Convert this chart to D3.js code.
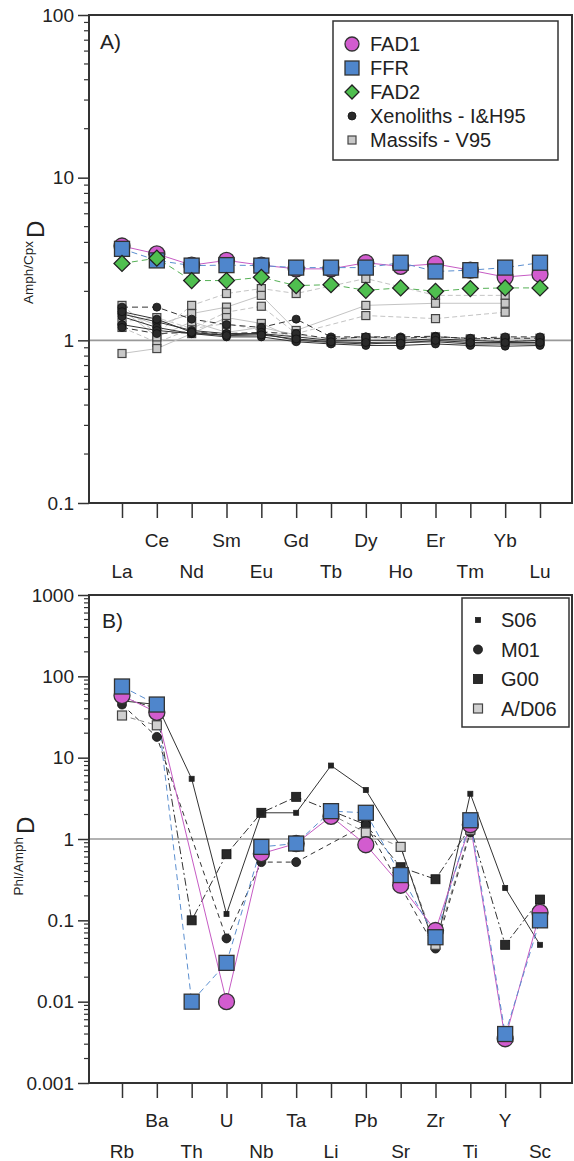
<!DOCTYPE html>
<meta charset="utf-8">
<style>
    body { margin: 0; background: #fff; }
    text { font-family: "Liberation Sans", Arial, sans-serif; fill: #222; }
</style>
<svg width="574" height="1161"></svg>
<script src="https://cdn.jsdelivr.net/npm/d3@7"></script>
<script>
    // panel A - Amph/Cpx partition coefficients, REE
    var ree = ["La", "Ce", "Nd", "Sm", "Eu", "Gd", "Tb", "Dy", "Ho", "Er", "Tm", "Yb", "Lu"];
    var fad1A = [3.8, 3.4, 2.9, 3.1, 2.9, 2.75, 2.75, 3.0, 2.85, 2.95, 2.7, 2.45, 2.55];
    var ffrA = [3.65, 3.1, 2.88, 2.9, 2.88, 2.8, 2.8, 2.8, 3.0, 2.65, 2.7, 2.8, 3.0];
    var fad2A = [2.97, 3.2, 2.33, 2.33, 2.44, 2.17, 2.2, 2.03, 2.1, 2.0, 2.08, 2.1, 2.1];
    var xenolithsA = [
        [1.6, 1.6, 1.35, 1.25, 1.2, 1.35, 1.05, 1.05, 1.05, 1.06, 1.02, 1.03, 1.03],
        [1.45, 1.3, 1.15, 1.1, 1.1, 1.0, 0.97, 0.95, 0.97, 0.98, 0.95, 0.95, 0.95],
        [1.4, 1.2, 1.1, 1.05, 1.05, 0.98, 0.95, 0.93, 0.93, 0.95, 0.93, 0.92, 0.93],
        [1.25, 1.15, 1.1, 1.08, 1.1, 1.05, 1.0, 1.0, 1.0, 1.02, 1.0, 0.98, 1.0],
        [1.2, 1.1, 1.12, 1.1, 1.12, 1.1, 1.02, 1.05, 1.03, 1.05, 1.03, 1.05, 1.05],
        [1.5, 1.35, 1.12, 1.07, 1.08, 1.02, 0.98, 0.97, 0.96, 1.0, 0.97, 0.97, 0.97]
    ];
    var massifsA = [
        [1.64, 1.1, 1.64, 1.94, 2.08, 1.94, null, 2.4, null, 1.89, null, 1.89, null],
        [1.49, 1.24, 1.46, 1.6, 1.89, 1.15, null, 1.64, null, 1.69, null, 1.69, null],
        [1.2, 0.97, 1.18, 1.49, 1.62, 1.1, null, 1.42, null, 1.36, null, 1.49, null],
        [0.83, 0.89, 1.1, 1.38, 1.27, 1.02, 0.98, 1.0, 0.98, 1.0, 0.97, 0.98, 0.98],
        [1.3, 1.38, 1.18, 1.27, 1.15, 1.05, 1.0, 1.02, 1.0, 1.02, 1.0, 1.0, 1.0],
        [1.55, 1.05, 1.3, 1.12, 1.2, 1.08, 1.02, 1.04, 1.02, 1.05, 1.02, 1.03, 1.03]
    ];

    // panel B - Phl/Amph partition coefficients
    var traceB = ["Rb", "Ba", "Th", "U", "Nb", "Ta", "Li", "Pb", "Sr", "Zr", "Ti", "Y", "Sc"];
    var fad1B = [58, 36, null, 0.01, 0.66, 0.88, 1.9, 0.85, 0.27, 0.075, 1.5, 0.0035, 0.125];
    var ffrB = [75, 45, 0.01, 0.03, 0.8, 0.88, 2.2, 2.1, 0.36, 0.062, 1.7, 0.004, 0.1];
    var s06B = [50, 45, 5.5, 0.12, 2.1, 2.1, 8.0, 4.0, 0.8, 0.045, 3.6, 0.25, 0.05];
    var m01B = [45, 18, null, 0.06, 0.52, 0.52, null, 1.5, null, 0.045, 1.2, null, null];
    var g00B = [55, 40, 0.1, 0.65, 2.1, 3.3, null, 1.5, 0.45, 0.32, 1.4, 0.05, 0.18];
    var ad06B = [33, 25, null, null, null, null, 2.0, 1.2, 0.8, 0.05, 1.3, null, 0.1];

    var svg = d3.select("svg");
    var left = 89, right = 572, xFirst = 122, xLast = 540;

    function drawSeries(g, x, y, cats, vals, st) {
        var pts = cats.map(function (c, i) { return {c: c, v: vals[i]}; });
        var line = d3.line()
                .x(function (d) { return x(d.c); })
                .y(function (d) { return y(d.v); });
        var data = pts;
        if (st.breakGaps) {
            line.defined(function (d) { return d.v != null; });
        } else {
            data = pts.filter(function (d) { return d.v != null; });
        }
        g.append("path")
                .datum(data)
                .attr("d", line)
                .attr("fill", "none")
                .attr("stroke", st.line)
                .attr("stroke-width", st.lw || 1)
                .attr("stroke-dasharray", st.dash || null);
        return pts.filter(function (d) { return d.v != null; });
    }

    function drawMarkers(g, x, y, pts, st) {
        pts.forEach(function (d) {
            var cx = x(d.c), cy = y(d.v), s = st.size;
            var m;
            if (st.shape == "circle") {
                m = g.append("circle").attr("cx", cx).attr("cy", cy).attr("r", s / 2);
            } else if (st.shape == "diamond") {
                var a = s / Math.SQRT2;
                m = g.append("rect").attr("x", -a / 2).attr("y", -a / 2).attr("width", a).attr("height", a)
                        .attr("transform", "translate(" + cx + "," + cy + ") rotate(45)");
            } else {
                m = g.append("rect").attr("x", cx - s / 2).attr("y", cy - s / 2).attr("width", s).attr("height", s);
            }
            m.attr("fill", st.fill).attr("stroke", st.stroke).attr("stroke-width", st.sw);
        });
    }

    function drawFrame(g, x, y, cats, decades, top, bottom) {
        // line at D = 1
        g.append("line")
                .attr("x1", left).attr("x2", right)
                .attr("y1", y(1)).attr("y2", y(1))
                .attr("stroke", "#999").attr("stroke-width", 1.6);

        var yAxis = g.append("g")
                .attr("transform", "translate(" + left + ",0)")
                .call(d3.axisLeft(y).tickValues(decades).tickSize(11)
                        .tickFormat(function (d) { return String(d); }));
        yAxis.select(".domain").remove();
        yAxis.selectAll("line").attr("stroke", "#333").attr("stroke-width", 1.5);
        yAxis.selectAll("text").attr("x", -15).style("font-size", "19px")
                .style("font-family", "'Liberation Sans', Arial, sans-serif").attr("fill", "#222");

        // minor ticks
        var minors = [];
        decades.forEach(function (d) {
            for (var k = 2; k < 10; k++) {
                if (d * k < y.domain()[1]) minors.push(d * k);
            }
        });
        g.append("g").selectAll("line").data(minors).enter().append("line")
                .attr("x1", left - 5).attr("x2", left)
                .attr("y1", function (d) { return y(d); })
                .attr("y2", function (d) { return y(d); })
                .attr("stroke", "#333").attr("stroke-width", 1.2);

        var xAxis = g.append("g")
                .attr("transform", "translate(0," + bottom + ")")
                .call(d3.axisBottom(x).tickSize(15).tickFormat(""));
        xAxis.select(".domain").remove();
        xAxis.selectAll("line").attr("stroke", "#333").attr("stroke-width", 1.5);

        g.append("g").selectAll("text").data(cats).enter().append("text")
                .attr("x", function (d) { return x(d); })
                .attr("y", function (d, i) { return bottom + (i % 2 == 0 ? 75 : 44); })
                .attr("text-anchor", "middle")
                .style("font-size", "19px")
                .text(function (d) { return d; });

        g.append("rect")
                .attr("x", left).attr("y", top)
                .attr("width", right - left).attr("height", bottom - top)
                .attr("fill", "none").attr("stroke", "#333").attr("stroke-width", 2);
    }

    var magenta = {shape: "circle", size: 16, fill: "#d25ccf", stroke: "#333", sw: 1.3, line: "#c65bc4", lw: 1};
    var blue = {shape: "square", size: 15, fill: "#4f86cc", stroke: "#333", sw: 1.3, line: "#5b8fd0", lw: 1, dash: "6,4"};
    var green = {shape: "diamond", size: 16, fill: "#4fbf4f", stroke: "#222", sw: 1.3, line: "#55b055", lw: 1, dash: "6,4"};

    // ---------------- panel A ----------------
    var xA = d3.scalePoint().domain(ree).range([xFirst, xLast]);
    var yA = d3.scaleLog().domain([0.1, 100]).range([503, 15]);
    var gA = svg.append("g");
    drawFrame(gA, xA, yA, ree, [0.1, 1, 10, 100], 15, 503);

    var massifSt = {shape: "square", size: 8, fill: "#c8c8c8", stroke: "#444", sw: 1.2, line: "#c4c4c4", lw: 1};
    var xenoSt = {shape: "circle", size: 8, fill: "#2a2a2a", stroke: "#111", sw: 0.8, line: "#333", lw: 1};
    var massifPts = massifsA.map(function (v, i) {
        return drawSeries(gA, xA, yA, ree, v, Object.assign({}, massifSt, {dash: i % 2 == 0 ? "5,3" : null}));
    });
    var xenoPts = xenolithsA.map(function (v, i) {
        return drawSeries(gA, xA, yA, ree, v, Object.assign({}, xenoSt, {dash: (i == 0 || i == 4) ? "6,4" : null}));
    });
    var fad1Pts = drawSeries(gA, xA, yA, ree, fad1A, magenta);
    var ffrPts = drawSeries(gA, xA, yA, ree, ffrA, blue);
    var fad2Pts = drawSeries(gA, xA, yA, ree, fad2A, green);
    massifPts.forEach(function (p) { drawMarkers(gA, xA, yA, p, massifSt); });
    xenoPts.forEach(function (p) { drawMarkers(gA, xA, yA, p, xenoSt); });
    drawMarkers(gA, xA, yA, fad1Pts, magenta);
    drawMarkers(gA, xA, yA, ffrPts, blue);
    drawMarkers(gA, xA, yA, fad2Pts, green);

    gA.append("text").attr("x", 100).attr("y", 49).style("font-size", "21px").text("A)");

    // y label A
    var labA = gA.append("g").attr("transform", "translate(44,238) rotate(-90)");
    labA.append("text").attr("x", 0).attr("y", 0).style("font-size", "24px").text("D");
    labA.append("text").attr("x", -3).attr("y", -11).attr("text-anchor", "end").style("font-size", "13.5px").text("Amph/Cpx");

    // legend A
    var legA = gA.append("g");
    legA.append("rect").attr("x", 333).attr("y", 21).attr("width", 225).attr("height", 139)
            .attr("fill", "#fff").attr("stroke", "#333").attr("stroke-width", 1.5);
    var legItemsA = [
        {name: "FAD1", st: magenta},
        {name: "FFR", st: blue},
        {name: "FAD2", st: green},
        {name: "Xenoliths - I&H95", st: xenoSt},
        {name: "Massifs - V95", st: massifSt}
    ];
    legItemsA.forEach(function (d, i) {
        var yy = 44 + i * 24;
        var st = Object.assign({}, d.st);
        if (i < 3) st.size = 14;
        drawMarkers(legA, function () { return 352; }, function () { return yy; }, [{c: 0, v: 0}], st);
        legA.append("text").attr("x", 370).attr("y", yy + 7).style("font-size", "20px").text(d.name);
    });

    // ---------------- panel B ----------------
    var xB = d3.scalePoint().domain(traceB).range([xFirst, xLast]);
    var yB = d3.scaleLog().domain([0.001, 1000]).range([1083, 595]);
    var gB = svg.append("g");
    drawFrame(gB, xB, yB, traceB, [0.001, 0.01, 0.1, 1, 10, 100, 1000], 595, 1083);

    var s06St = {shape: "square", size: 5, fill: "#222", stroke: "#222", sw: 0.8, line: "#333", lw: 1};
    var m01St = {shape: "circle", size: 9, fill: "#2a2a2a", stroke: "#111", sw: 0.8, line: "#333", lw: 1, dash: "5,4"};
    var g00St = {shape: "square", size: 9, fill: "#2a2a2a", stroke: "#111", sw: 0.8, line: "#333", lw: 1, dash: "8,3,2,3"};
    var ad06St = {shape: "square", size: 9, fill: "#d0d0d0", stroke: "#444", sw: 1.2, line: "#888", lw: 1, dash: "5,4", breakGaps: true};

    var ad06Pts = drawSeries(gB, xB, yB, traceB, ad06B, ad06St);
    var m01Pts = drawSeries(gB, xB, yB, traceB, m01B, m01St);
    var g00Pts = drawSeries(gB, xB, yB, traceB, g00B, g00St);
    var s06Pts = drawSeries(gB, xB, yB, traceB, s06B, s06St);
    var fad1BPts = drawSeries(gB, xB, yB, traceB, fad1B, magenta);
    var ffrBPts = drawSeries(gB, xB, yB, traceB, ffrB, blue);
    drawMarkers(gB, xB, yB, g00Pts, g00St);
    drawMarkers(gB, xB, yB, s06Pts, s06St);
    drawMarkers(gB, xB, yB, m01Pts, m01St);
    drawMarkers(gB, xB, yB, ad06Pts, ad06St);
    drawMarkers(gB, xB, yB, fad1BPts, magenta);
    drawMarkers(gB, xB, yB, ffrBPts, blue);

    gB.append("text").attr("x", 102).attr("y", 628).style("font-size", "21px").text("B)");

    var labB = gB.append("g").attr("transform", "translate(34,834) rotate(-90)");
    labB.append("text").attr("x", 0).attr("y", 0).style("font-size", "24px").text("D");
    labB.append("text").attr("x", -3).attr("y", -11).attr("text-anchor", "end").style("font-size", "13.5px").text("Phl/Amph");

    var legB = gB.append("g");
    legB.append("rect").attr("x", 462).attr("y", 598).attr("width", 107).attr("height", 129)
            .attr("fill", "#fff").attr("stroke", "#333").attr("stroke-width", 1.5);
    var legItemsB = [
        {name: "S06", st: s06St},
        {name: "M01", st: m01St},
        {name: "G00", st: g00St},
        {name: "A/D06", st: ad06St}
    ];
    legItemsB.forEach(function (d, i) {
        var yy = 620 + i * 29.5;
        drawMarkers(legB, function () { return 478; }, function () { return yy; }, [{c: 0, v: 0}], d.st);
        legB.append("text").attr("x", 501).attr("y", yy + 7).style("font-size", "20px").text(d.name);
    });
</script>
